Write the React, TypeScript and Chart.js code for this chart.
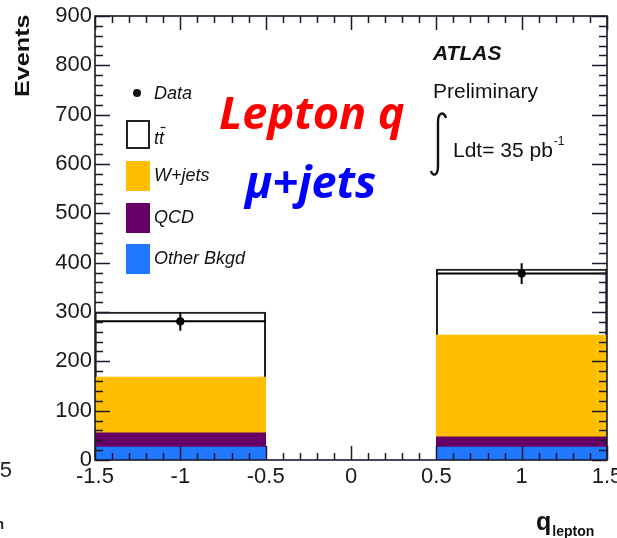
import React, { useEffect, useRef } from 'react';
import { Chart, registerables } from 'chart.js';
Chart.register(...registerables);

// ---- data ----
const binLabels = ['-1', '0', '1'];
const otherBkgd = [26, null, 26];
const qcd = [29, null, 21];
const wjets = [113, null, 206];
const ttbar = [132, null, 134];
const dataX = [-1, 1];
const dataY = [281, 378];
const dataErr = [19, 21];
const binHalfWidth = 0.5;
const xMin = -1.5, xMax = 1.5, xStep = 0.5, xMinorStep = 0.1;
const yMin = 0, yMax = 900, yStep = 100, yMinorStep = 20;

const legendLabels = ['Data', 'tt', 'W+jets', 'QCD', 'Other Bkgd'];

const COL_OTHER = '#1f78ff';
const COL_QCD = '#660066';
const COL_W = '#ffbf00';
const TICK_FONT = '"Liberation Sans", Arial, sans-serif';

const rootPlugin = {
  id: 'rootStyle',
  afterDraw(chart: any) {
    const ctx = chart.ctx;
    const ca = chart.chartArea;
    const xs = chart.scales.x2;
    const ys = chart.scales.y;
    ctx.save();

    // error bars for data
    ctx.strokeStyle = '#000';
    ctx.lineWidth = 2;
    for (let i = 0; i < dataX.length; i++) {
      const px = xs.getPixelForValue(dataX[i]);
      const py = ys.getPixelForValue(dataY[i]);
      ctx.beginPath();
      ctx.moveTo(px, ys.getPixelForValue(dataY[i] + dataErr[i]));
      ctx.lineTo(px, ys.getPixelForValue(dataY[i] - dataErr[i]));
      ctx.moveTo(xs.getPixelForValue(dataX[i] - binHalfWidth), py);
      ctx.lineTo(xs.getPixelForValue(dataX[i] + binHalfWidth), py);
      ctx.stroke();
    }

    // frame
    ctx.strokeStyle = '#1a1a2a';
    ctx.lineWidth = 1.6;
    ctx.strokeRect(ca.left, ca.top, ca.right - ca.left, ca.bottom - ca.top);

    // y ticks (inward both sides)
    ctx.lineWidth = 1.5;
    ctx.beginPath();
    for (let v = yMin; v <= yMax + 1e-6; v += yMinorStep) {
      const p = Math.round(ys.getPixelForValue(v)) + 0.5;
      const major = Math.abs(v % yStep) < 1e-6;
      const len = major ? 15 : 8;
      ctx.moveTo(ca.left, p); ctx.lineTo(ca.left + len, p);
      ctx.moveTo(ca.right, p); ctx.lineTo(ca.right - len, p);
    }
    // x ticks (inward top and bottom)
    for (let k = 0; k <= Math.round((xMax - xMin) / xMinorStep); k++) {
      const v = xMin + k * xMinorStep;
      const p = Math.round(xs.getPixelForValue(v)) + 0.5;
      const major = k % Math.round(xStep / xMinorStep) === 0;
      const len = major ? 14 : 7;
      ctx.moveTo(p, ca.bottom); ctx.lineTo(p, ca.bottom - len);
      ctx.moveTo(p, ca.top); ctx.lineTo(p, ca.top + len);
    }
    ctx.stroke();

    // legend
    const ds = chart.data.datasets;
    ctx.fillStyle = '#111';
    ctx.font = 'italic 18px ' + TICK_FONT;
    ctx.textBaseline = 'middle';
    ctx.textAlign = 'left';
    // Data
    ctx.beginPath();
    ctx.arc(137, 93, 4, 0, Math.PI * 2);
    ctx.fill();
    ctx.fillText(legendLabels[0], 154, 94);
    // ttbar
    ctx.strokeStyle = '#222';
    ctx.lineWidth = 2;
    ctx.strokeRect(127, 121, 22, 27);
    ctx.fillText(legendLabels[1], 154, 139);
    const tw = ctx.measureText('t').width;
    ctx.lineWidth = 1.3;
    ctx.beginPath();
    ctx.moveTo(154 + tw + 1.5, 127.5);
    ctx.lineTo(154 + 2 * tw + 1.5, 127.5);
    ctx.stroke();
    // filled boxes
    const boxes = [
      { c: ds[2].backgroundColor, y: 161, t: legendLabels[2] },
      { c: ds[1].backgroundColor, y: 203, t: legendLabels[3] },
      { c: ds[0].backgroundColor, y: 244, t: legendLabels[4] },
    ];
    boxes.forEach((b) => {
      ctx.fillStyle = b.c;
      ctx.fillRect(126, b.y, 24, 30);
      ctx.fillStyle = '#111';
      ctx.fillText(b.t, 154, b.y + 15);
    });

    // ATLAS labels
    ctx.fillStyle = '#111';
    ctx.textBaseline = 'alphabetic';
    ctx.font = 'italic bold 21px ' + TICK_FONT;
    ctx.fillText('ATLAS', 433, 60);
    ctx.font = '21px ' + TICK_FONT;
    ctx.fillText('Preliminary', 433, 98);
    ctx.fillText('Ldt= 35 pb', 453, 157);
    const lw = ctx.measureText('Ldt= 35 pb').width;
    ctx.font = '12px ' + TICK_FONT;
    ctx.fillText('-1', 453 + lw + 1, 145);
    // integral sign
    ctx.strokeStyle = '#111';
    ctx.lineWidth = 2.4;
    ctx.beginPath();
    ctx.moveTo(446, 118);
    ctx.bezierCurveTo(444, 111, 438, 112, 438, 122);
    ctx.lineTo(438, 166);
    ctx.bezierCurveTo(438, 177, 432, 176, 431, 171);
    ctx.stroke();

    // axis titles
    ctx.font = 'bold 21px ' + TICK_FONT;
    ctx.save();
    ctx.translate(29, 97);
    ctx.rotate(-Math.PI / 2);
    ctx.scale(1.2, 1);
    ctx.textAlign = 'left';
    ctx.fillText('Events', 0, 0);
    ctx.restore();
    ctx.font = 'bold 25px ' + TICK_FONT;
    ctx.textAlign = 'left';
    ctx.fillText('q', 536, 530);
    const qw = ctx.measureText('q').width;
    ctx.font = 'bold 14px ' + TICK_FONT;
    ctx.fillText('lepton', 536 + qw + 1, 536);

    // overlay titles
    ctx.textAlign = 'left';
    ctx.font = 'italic bold 45px "Open Sans", sans-serif';
    ctx.fillStyle = '#ff0000';
    ctx.fillText('Lepton q', 219, 129);
    ctx.fillStyle = '#0000ff';
    ctx.fillText('\u03bc+jets', 245, 198);

    // fragments of neighbouring figure at left edge
    ctx.fillStyle = '#222';
    ctx.font = '22px ' + TICK_FONT;
    ctx.textAlign = 'right';
    ctx.textBaseline = 'middle';
    ctx.fillText('5', 12, 471);
    ctx.font = 'bold 14px ' + TICK_FONT;
    ctx.fillText('n', 4, 525);

    ctx.restore();
  },
};

export default function App() {
  const ref = useRef<HTMLCanvasElement>(null);
  useEffect(() => {
    if (!ref.current) return;
    const chart = new Chart(ref.current, {
      type: 'bar',
      data: {
        labels: binLabels,
        datasets: [
          { label: 'Other Bkgd', data: otherBkgd, backgroundColor: COL_OTHER, borderWidth: 0, stack: 'mc' },
          { label: 'QCD', data: qcd, backgroundColor: COL_QCD, borderWidth: 0, stack: 'mc' },
          { label: 'W+jets', data: wjets, backgroundColor: COL_W, borderWidth: 0, stack: 'mc' },
          {
            label: 'tt', data: ttbar, backgroundColor: '#ffffff', borderColor: '#222',
            borderWidth: { top: 2, left: 2, right: 2, bottom: 0 }, borderSkipped: 'bottom', stack: 'mc',
          },
          {
            type: 'scatter', label: 'Data', xAxisID: 'x2', yAxisID: 'y', stack: 'data',
            data: dataX.map((x, i) => ({ x, y: dataY[i] })),
            pointRadius: 3.8, pointBackgroundColor: '#000', pointBorderColor: '#000', order: -1,
          } as any,
        ],
      },
      options: {
        animation: false,
        responsive: false,
        maintainAspectRatio: false,
        layout: { padding: { top: 16, right: 10, left: 0, bottom: 0 } },
        plugins: { legend: { display: false }, tooltip: { enabled: false } },
        datasets: { bar: { barPercentage: 1, categoryPercentage: 1, grouped: false } },
        scales: {
          x: { type: 'category', stacked: true, display: false, offset: true },
          x2: {
            type: 'linear', position: 'bottom', min: xMin, max: xMax, offset: false,
            ticks: {
              stepSize: xStep, font: { family: TICK_FONT, size: 22 }, color: '#1a1a1a', padding: 4,
              maxRotation: 0, autoSkip: false, callback: (v: any) => String(Number(v)),
            },
            grid: { display: false, drawTicks: false, offset: false },
            border: { display: false },
            afterFit: (s: any) => { s.height = 78; s.paddingLeft = 0; s.paddingRight = 0; },
          },
          y: {
            min: yMin, max: yMax, stacked: true,
            ticks: { stepSize: yStep, font: { family: TICK_FONT, size: 22 }, color: '#1a1a1a', padding: 3 },
            grid: { display: false, drawTicks: false },
            border: { display: false },
            afterFit: (s: any) => { s.width = 95; s.paddingTop = 0; s.paddingBottom = 0; },
          },
        },
      } as any,
      plugins: [rootPlugin],
    });
    return () => chart.destroy();
  }, []);
  return (
    <div style={{ position: 'absolute', left: 0, top: 0, width: 617, height: 538, background: '#fff' }}>
      <canvas ref={ref} width={617} height={538} />
    </div>
  );
}
